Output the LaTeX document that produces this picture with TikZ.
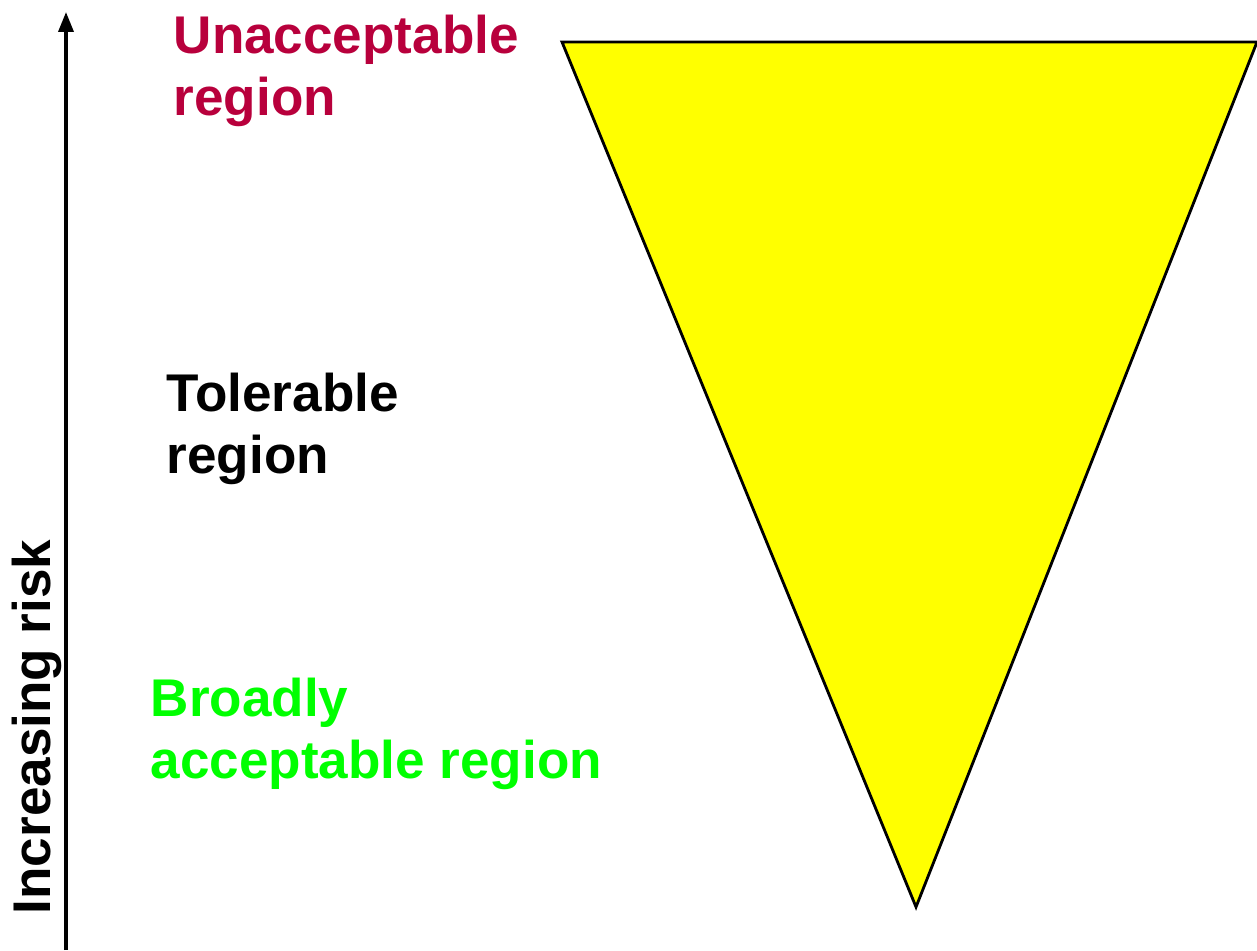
\documentclass[tikz,border=0pt]{standalone}
\usepackage{fontspec}
\setmainfont{Liberation Sans}
\usetikzlibrary{arrows.meta,positioning}
\definecolor{rkRed}{RGB}{184,0,60}
\definecolor{rkGreen}{RGB}{0,255,0}
\definecolor{rkYellow}{RGB}{255,255,0}

\begin{document}
\begin{tikzpicture}[
    lbl/.style={anchor=north west,inner sep=0pt,align=left,
                font=\fontsize{15.1}{17.6}\selectfont\bfseries},
    arr/.style={-{Triangle[length=2mm,width=1.5mm]},line width=1pt},
    zone/.style={draw=black,line width=0.8pt,fill=rkYellow,line join=miter}]
  \useasboundingbox (0,0) rectangle (12.57,9.5);
  % risk axis
  \coordinate (axlo) at (0.66,0);
  \coordinate (axhi) at (0.66,9.38);
  \draw[arr] (axlo) -- (axhi);
  \node[lbl,rotate=90,anchor=base west] (risk) at (0.51,0.35) {Increasing risk};
  % the funnel
  \coordinate (tl) at (5.62,9.08);
  \coordinate (tr) at (12.57,9.08);
  \coordinate (tip) at (9.16,0.43);
  \draw[zone] (tl) -- (tr) -- (tip) -- cycle;
  % regions
  \node[lbl,text=rkRed] (unacc) at (1.73,9.36) {Unacceptable\\region};
  \node[lbl] (toler) at (1.66,5.78) {Tolerable\\region};
  \node[lbl,text=rkGreen] (broad) at (1.50,2.73) {Broadly\\acceptable region};
\end{tikzpicture}
\end{document}
